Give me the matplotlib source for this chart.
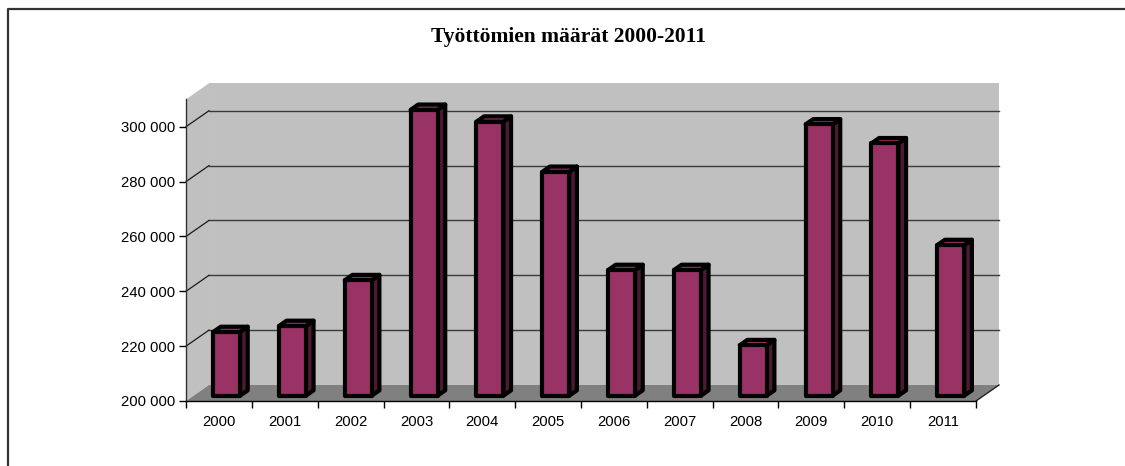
import matplotlib
matplotlib.use('Agg')
import matplotlib.pyplot as plt
from matplotlib.patches import Polygon
from matplotlib.lines import Line2D

# ---- data ----
years = ['2000', '2001', '2002', '2003', '2004', '2005',
         '2006', '2007', '2008', '2009', '2010', '2011']
unemployed = [223200, 225400, 242100, 304200, 299900, 281600,
              245800, 245800, 218400, 298900, 292000, 254900]
y_ticks = [200000, 220000, 240000, 260000, 280000, 300000]
y_tick_labels = ['200 000', '220 000', '240 000', '260 000', '280 000', '300 000']
title = 'Työttömien määrät 2000-2011'

# ---- layout ----
W, H, DPI = 1125, 466, 100
fig = plt.figure(figsize=(W / DPI, H / DPI), dpi=DPI)
fig.patch.set_facecolor('white')

ax = fig.add_axes([186 / W, (H - 401) / H, 790 / W, (401 - 99.3) / H])
n = len(years)
ax.set_xlim(-0.5, n - 0.5)
ax.set_ylim(200000, 310000)
ax.patch.set_visible(False)
ax.spines['top'].set_visible(False)
ax.spines['right'].set_visible(False)
ax.spines['left'].set_color('#333333')
ax.spines['left'].set_linewidth(1)
ax.spines['bottom'].set_color('black')
ax.spines['bottom'].set_linewidth(1)

# depth projection (in data units)
DX = 0.349
DY = 5833.0
X0, X1 = -0.5, n - 0.5
YMIN, YMAX = 200000, 310000


def P(x, y, d):
    return (x + DX * d, y + DY * d)


def poly(pts, **kw):
    p = Polygon(pts, closed=True, clip_on=False, **kw)
    ax.add_patch(p)
    return p


wall_c = '#C0C0C0'
floor_c = '#808080'

# back wall
poly([P(X0, YMIN, 1), P(X1, YMIN, 1), P(X1, YMAX, 1), P(X0, YMAX, 1)],
     facecolor=wall_c, edgecolor='none', zorder=0)
# side wall
poly([P(X0, YMIN, 0), P(X0, YMIN, 1), P(X0, YMAX, 1), P(X0, YMAX, 0)],
     facecolor=wall_c, edgecolor='none', zorder=0)

# gridlines
for v in y_ticks[1:]:
    a, b = P(X0, v, 1), P(X1, v, 1)
    ax.add_line(Line2D([a[0], b[0]], [a[1], b[1]], color='#3a3a3a', lw=1.0,
                       zorder=0.5, clip_on=False))
    a, b = P(X0, v, 0), P(X0, v, 1)
    ax.add_line(Line2D([a[0], b[0]], [a[1], b[1]], color='#1a1a1a', lw=0.9,
                       zorder=0.5, clip_on=False))

# floor
poly([P(X0, YMIN, 0), P(X1, YMIN, 0), P(X1, YMIN, 1), P(X0, YMIN, 1)],
     facecolor=floor_c, edgecolor='none', zorder=0.6)
a, b = P(X1, YMIN, 0), P(X1, YMIN, 1)
ax.add_line(Line2D([a[0], b[0]], [a[1], b[1]], color='#222222', lw=1.0,
                   zorder=0.7, clip_on=False))

# bars
front_c = '#993366'
side_c = '#4D1A33'
top_c = '#993366'
w = 0.41
d0, d1 = 1 / 3, 2 / 3
lw = 3.0
for i, v in enumerate(unemployed):
    xl, xr = i - w / 2, i + w / 2
    z = 2 + i * 0.01
    poly([P(xr, YMIN, d0), P(xr, YMIN, d1), P(xr, v, d1), P(xr, v, d0)],
         facecolor=side_c, edgecolor='black', lw=lw, joinstyle='round', zorder=z)
    poly([P(xl, v, d0), P(xr, v, d0), P(xr, v, d1), P(xl, v, d1)],
         facecolor=top_c, edgecolor='black', lw=lw, joinstyle='round', zorder=z)
    poly([P(xl, YMIN, d0), P(xr, YMIN, d0), P(xr, v, d0), P(xl, v, d0)],
         facecolor=front_c, edgecolor='black', lw=lw, joinstyle='round', zorder=z + 0.001)

# ticks
tick_font = dict(family=['Liberation Sans', 'DejaVu Sans'], size=10.7)
ax.set_yticks(y_ticks)
ax.set_yticklabels(y_tick_labels, fontdict=tick_font)
ax.tick_params(axis='y', direction='out', length=5, width=1, color='black', pad=3)
ax.set_xticks(range(n))
ax.set_xticklabels(years, fontdict=tick_font)
ax.set_xticks([i - 0.5 for i in range(n + 1)], minor=True)
ax.tick_params(axis='x', which='major', length=0, pad=10)
ax.tick_params(axis='x', which='minor', direction='out', length=5, width=1, color='black')

# title
fig.text(568 / W, 1 - 41.7 / H, title, ha='center', va='baseline',
         fontsize=15.5, fontweight='bold', family=['Liberation Serif', 'DejaVu Serif'])

# chart border (top and left visible)
fig.add_artist(Line2D([8 / W, 8 / W, 1.0], [0.0, 1 - 9 / H, 1 - 9 / H],
                      transform=fig.transFigure, color='#333333', lw=1.6))

fig.savefig('out.png', dpi=DPI, facecolor='white')
